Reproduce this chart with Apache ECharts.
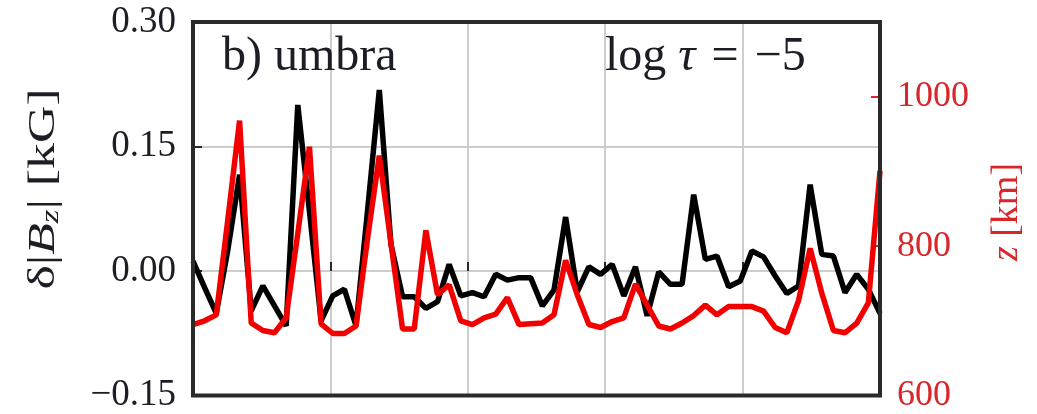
<!DOCTYPE html>
<html>
<head>
<meta charset="utf-8">
<script src="https://cdn.jsdelivr.net/npm/echarts@6/dist/echarts.min.js"></script>
<style>
  html, body { margin: 0; padding: 0; background: #ffffff; }
  #chart { width: 1037px; height: 414px; }
</style>
</head>
<body>
<div id="chart"></div>
<script>
// Sample index along the cut (one value per pixel column of the map)
const samples = Array.from({ length: 60 }, (_, i) => i);

// δ|B_z| in kG along the cut (left axis)
const dBz = [
  0.012, -0.020, -0.051, 0.026, 0.116, -0.048, -0.018, -0.042, -0.066, 0.200,
  0.072, -0.060, -0.030, -0.022, -0.066, 0.074, 0.218, 0.032, -0.031, -0.031,
  -0.045, -0.037, 0.008, -0.030, -0.026, -0.031, -0.004, -0.011, -0.008, -0.008,
  -0.042, -0.023, 0.065, -0.025, 0.005, -0.004, 0.008, -0.030, 0.005, -0.054,
  -0.001, -0.016, -0.016, 0.092, 0.014, 0.018, -0.019, -0.012, 0.024, 0.017,
  -0.006, -0.027, -0.018, 0.104, 0.020, 0.018, -0.026, -0.004, -0.022, -0.051
];

// Geometric height z in km at the same samples (right axis)
const zHeight = [
  695, 700, 708, 837, 968, 697, 687, 684, 704, 817,
  933, 696, 683, 683, 693, 811, 921, 804, 689, 689,
  821, 735, 748, 700, 695, 704, 709, 731, 695, 696,
  697, 708, 781, 735, 695, 691, 699, 704, 749, 721,
  693, 689, 697, 707, 721, 708, 719, 719, 719, 713,
  691, 684, 727, 797, 737, 687, 684, 697, 724, 901
];

const leftTicks = [-0.15, 0.00, 0.15, 0.30];
const rightLabels = [600, 800, 1000];
const rightTicks = [800, 1000];

const SERIF = "'Liberation Serif', 'DejaVu Serif', serif";
const INK = '#1d1d26';
const FRAME = '#2a2a2a';
const RED = '#f20000';
const RED_TEXT = '#d9262a';

function fmtLeft(v) {
  const r = Math.round(v * 100) / 100;
  const s = Math.abs(r).toFixed(2);
  return r < 0 ? '\u2212' + s : s;
}

const chart = echarts.init(document.getElementById('chart'), null, { renderer: 'canvas' });

chart.setOption({
  animation: false,
  backgroundColor: '#ffffff',
  grid: {
    left: 193, right: 157, top: 22, bottom: 16, z: 10,
    show: true, borderColor: FRAME, borderWidth: 4, backgroundColor: 'transparent'
  },
  xAxis: {
    type: 'value',
    min: samples[0],
    max: samples[samples.length - 1],
    interval: (samples[samples.length - 1] - samples[0]) / 5,
    axisLine: { show: false },
    axisLabel: { show: false },
    axisTick: { inside: true, length: 9, lineStyle: { color: FRAME, width: 2 } },
    splitLine: { show: true, lineStyle: { color: '#cdcdcd', width: 2 } }
  },
  yAxis: [
    {
      type: 'value',
      position: 'left',
      min: leftTicks[0],
      max: leftTicks[leftTicks.length - 1],
      interval: 0.15,
      axisLine: { show: false },
      axisTick: { inside: true, length: 9, lineStyle: { color: FRAME, width: 2 } },
      axisLabel: {
        margin: 17, color: INK, fontFamily: SERIF, fontSize: 37,
        formatter: fmtLeft
      },
      splitLine: { show: true, lineStyle: { color: '#cdcdcd', width: 2 } }
    },
    {
      type: 'value',
      position: 'right',
      min: 600,
      max: 1100,
      axisLine: { show: false },
      axisTick: {
        inside: true, length: 9, customValues: rightTicks,
        lineStyle: { color: RED_TEXT, width: 2 }
      },
      axisLabel: {
        customValues: rightLabels,
        margin: 17, color: RED_TEXT, fontFamily: SERIF, fontSize: 36,
        formatter: v => String(v)
      },
      splitLine: { show: false }
    }
  ],
  series: [
    {
      name: 'dBz',
      type: 'line',
      yAxisIndex: 0,
      data: dBz.map((v, i) => [samples[i], v]),
      showSymbol: false,
      lineStyle: { color: '#000000', width: 5.5 },
      itemStyle: { color: '#000000' },
      z: 3
    },
    {
      name: 'z',
      type: 'line',
      yAxisIndex: 1,
      data: zHeight.map((v, i) => [samples[i], v]),
      showSymbol: false,
      lineStyle: { color: RED, width: 5.5 },
      itemStyle: { color: RED },
      z: 4
    }
  ],
  graphic: [
    {
      type: 'text', x: 222, y: 57, z: 20,
      style: {
        text: 'b) umbra', fill: INK, font: '48px ' + SERIF,
        align: 'left', verticalAlign: 'middle'
      }
    },
    {
      type: 'text', x: 605, y: 57, z: 20,
      style: {
        text: 'log {t|τ}\u2004=\u2004\u22125', fill: INK, font: '48px ' + SERIF,
        align: 'left', verticalAlign: 'middle',
        rich: { t: { fontStyle: 'italic', fontSize: 48, fontFamily: SERIF, fill: INK } }
      }
    },
    {
      type: 'text', x: 44, y: 189, rotation: Math.PI / 2, scaleX: 1.4, z: 20,
      style: {
        text: 'δ|{b|B}{s|z}| [kG]', fill: INK, font: '37px ' + SERIF,
        align: 'center', verticalAlign: 'middle',
        rich: {
          b: { fontStyle: 'italic', fontSize: 37, fontFamily: SERIF, fill: INK },
          s: { fontStyle: 'italic', fontSize: 25, fontFamily: SERIF, fill: INK, padding: [14, 0, 0, 0] }
        }
      }
    },
    {
      type: 'text', x: 1007, y: 212, rotation: Math.PI / 2, z: 20,
      style: {
        text: '{i|z} [km]', fill: RED_TEXT, font: '38px ' + SERIF,
        align: 'center', verticalAlign: 'middle',
        rich: { i: { fontStyle: 'italic', fontSize: 38, fontFamily: SERIF, fill: RED_TEXT } }
      }
    }
  ]
});
</script>
</body>
</html>
